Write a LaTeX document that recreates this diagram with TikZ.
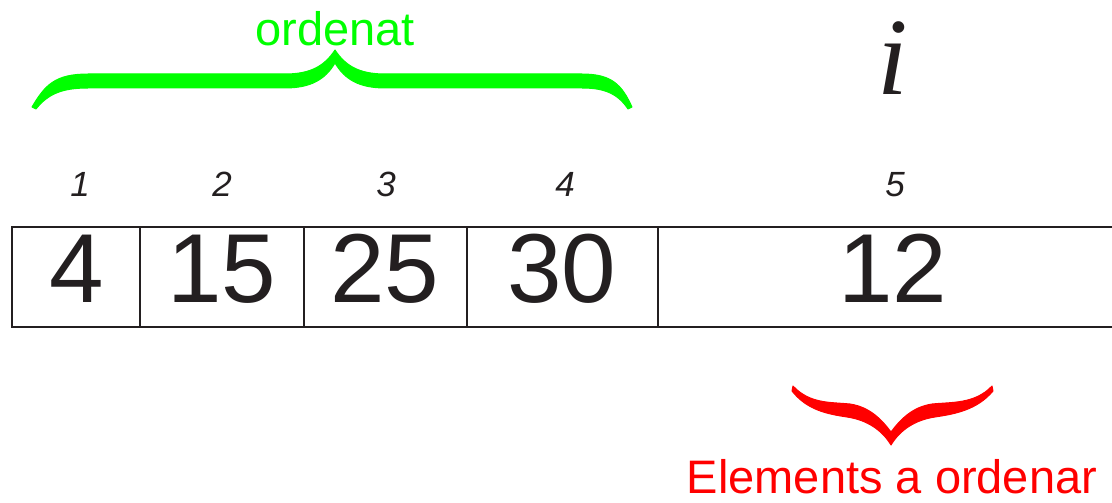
\documentclass[tikz,border=0pt]{standalone}
\usepackage{fontspec}
\setmainfont{Liberation Sans}
\newfontfamily\serifi{Liberation Serif}
\definecolor{bgreen}{RGB}{0,255,0}
\definecolor{bred}{RGB}{255,0,0}
\definecolor{ink}{RGB}{35,31,32}
\begin{document}
\begin{tikzpicture}[x=1pt,y=-1pt,
  cellline/.style={draw=ink,line width=2.2pt},
  val/.style={anchor=base,inner sep=0pt,text=ink,font=\fontsize{98}{100}\selectfont},
  idx/.style={anchor=base,inner sep=0pt,text=ink,font=\fontsize{35}{40}\selectfont\itshape},
  lab/.style={anchor=base,inner sep=0pt,font=\fontsize{47}{50}\selectfont}]
\useasboundingbox (0,0) rectangle (1112,503);
% array
\coordinate (tl) at (12,227);
\coordinate (bl) at (12,327);
\coordinate (tr) at (1112,227);
\coordinate (br) at (1112,327);
\draw[cellline] (tr) -- (tl) -- (bl) -- (br);
\foreach \x in {140,304,467,658}{\draw[cellline] (\x,227) -- (\x,327);}
% values
\node[val] (v1) at (77,302) {4};
\node[val] (v2) at (222,302) {15};
\node[val] (v3) at (385,302) {25};
\node[val] (v4) at (562,302) {30};
\node[val] (v5) at (893,302) {12};
% indices
\node[idx] (i1) at (80,196) {1};
\node[idx] (i2) at (222,196) {2};
\node[idx] (i3) at (386,196) {3};
\node[idx] (i4) at (565,196) {4};
\node[idx] (i5) at (895,196) {5};
% i
\node[anchor=base,inner sep=0pt,text=ink,font=\serifi\itshape\fontsize{110}{110}\selectfont] (ivar) at (893,95) {i};
% green brace
\fill[bgreen,draw=bgreen,line width=1pt,line join=round]
  (32,107) .. controls (45,85) and (55,74) .. (88,74) -- (285,74)
  .. controls (312,74) and (325,65) .. (335,50)
  .. controls (345,65) and (358,74) .. (385,74) -- (582,74)
  .. controls (612,74) and (622,85) .. (632,107) -- (628,109)
  .. controls (618,94) and (605,88) .. (582,88) -- (385,88)
  .. controls (360,88) and (345,80) .. (335,63)
  .. controls (325,80) and (310,88) .. (285,88) -- (88,88)
  .. controls (62,88) and (48,94) .. (36,109) -- cycle;
\node[lab,text=bgreen] (ord) at (335,46) {ordenat};
% red brace
\fill[bred,draw=bred,line width=1pt,line join=round]
  (793,386) .. controls (810,404) and (830,402) .. (850,404)
  .. controls (870,407) and (882,420) .. (891,432)
  .. controls (900,420) and (912,407) .. (932,404)
  .. controls (952,402) and (975,404) .. (992,386) -- (993,391)
  .. controls (977,410) and (955,414) .. (935,417)
  .. controls (915,420) and (900,430) .. (891,445)
  .. controls (882,430) and (867,420) .. (847,417)
  .. controls (827,414) and (807,410) .. (792,391) -- cycle;
\node[lab,text=bred] (elem) at (892,493) {Elements a ordenar};
\end{tikzpicture}
\end{document}
